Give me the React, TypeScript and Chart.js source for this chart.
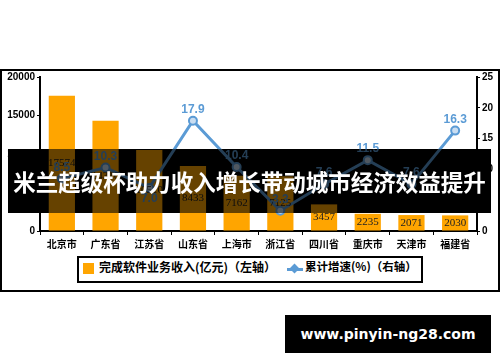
import React, { useEffect, useRef } from "react";
import { Chart, registerables } from "chart.js";

Chart.register(...registerables);

// Provinces / cities on the category axis
const cities = ["北京市", "广东省", "江苏省", "山东省", "上海市", "浙江省", "四川省", "重庆市", "天津市", "福建省"];
// Software business revenue, 100 million yuan (left axis)
const revenue = [17574, 14316, 10510, 8433, 7162, 7125, 3457, 2235, 2071, 2030];
// Cumulative growth, % (right axis)
const growth = [8.5, 10.3, 7.0, 17.9, 10.4, 3.3, 7.6, 11.5, 7.6, 16.3];
const revenueTicks = [0, 5000, 10000, 15000, 20000];
const growthTicks = [0, 5, 10, 15, 20, 25];
// growth labels that sit under their point instead of above it
const growthLabelsBelow = [2];

const revenueLabel = "完成软件业务收入(亿元)（左轴）";
const growthLabel = "累计增速(%)（右轴）";
const headline = "米兰超级杯助力收入增长带动城市经济效益提升";
const site = "www.pinyin-ng28.com";

const ORANGE = "#FFA500";
const BLUE = "#5B9BD5";
const CJK = '"Noto Sans CJK SC", "Noto Sans", sans-serif';

const valueLabels = {
  id: "valueLabels",
  afterDatasetsDraw(chart: any) {
    const ctx = chart.ctx;
    ctx.save();
    ctx.textAlign = "center";
    ctx.textBaseline = "middle";

    ctx.font = '11px "Liberation Serif", serif';
    ctx.fillStyle = "#222";
    chart.getDatasetMeta(1).data.forEach((el: any, i: number) => {
      const { x, y, base } = el.getProps(["x", "y", "base"], true);
      ctx.fillText(String(revenue[i]), x, (y + base) / 2);
    });

    ctx.font = 'bold 12px "Liberation Sans", Arial, sans-serif';
    ctx.fillStyle = BLUE;
    chart.getDatasetMeta(0).data.forEach((el: any, i: number) => {
      const dy = growthLabelsBelow.includes(i) ? 11 : -11;
      ctx.fillText(growth[i].toFixed(1), el.x, el.y + dy);
    });
    ctx.restore();
  },
};

const tickFont = { family: '"Liberation Sans", Arial, sans-serif', size: 10, weight: "bold" as const };
const plainNumber = (v: number | string) => String(v);

export default function App() {
  const canvasRef = useRef<HTMLCanvasElement>(null);

  useEffect(() => {
    const chart = new Chart(canvasRef.current!, {
      data: {
        labels: cities,
        datasets: [
          {
            type: "line",
            label: growthLabel,
            data: growth,
            yAxisID: "y1",
            borderColor: BLUE,
            borderWidth: 3,
            tension: 0,
            pointRadius: 4,
            pointBackgroundColor: "#C9DDF1",
            pointBorderColor: BLUE,
            pointBorderWidth: 2,
            order: 0,
          },
          {
            type: "bar",
            label: revenueLabel,
            data: revenue,
            yAxisID: "y",
            backgroundColor: ORANGE,
            categoryPercentage: 1,
            barPercentage: 0.6,
            order: 1,
          },
        ],
      } as any,
      options: {
        animation: false,
        responsive: false,
        devicePixelRatio: 1,
        layout: { padding: { left: 2, right: 2, top: 77, bottom: 39 } },
        plugins: { legend: { display: false }, tooltip: { enabled: false } },
        scales: {
          x: {
            offset: true,
            grid: { offset: true, drawOnChartArea: false, tickLength: 4, color: "#000", lineWidth: 1 },
            border: { color: "#000", width: 2 },
            ticks: {
              color: "#000",
              font: { family: CJK, size: 10, weight: "bold" },
              padding: 3,
              maxRotation: 0,
              autoSkip: false,
            },
            afterFit: (s: any) => {
              s.height = 30;
            },
          },
          y: {
            position: "left",
            min: 0,
            max: 20000,
            grid: { drawOnChartArea: false, tickLength: 3, color: "#000" },
            border: { color: "#000", width: 2 },
            ticks: { color: "#000", font: tickFont, padding: 2, callback: plainNumber },
            afterBuildTicks: (s: any) => {
              s.ticks = revenueTicks.map((v) => ({ value: v }));
            },
            afterFit: (s: any) => {
              s.width = 38;
            },
          },
          y1: {
            position: "right",
            min: 0,
            max: 25,
            grid: { drawOnChartArea: false, tickLength: 3, color: "#000" },
            border: { color: "#000", width: 2 },
            ticks: { color: "#000", font: tickFont, padding: 2, callback: plainNumber },
            afterBuildTicks: (s: any) => {
              s.ticks = growthTicks.map((v) => ({ value: v }));
            },
            afterFit: (s: any) => {
              s.width = 21;
            },
          },
        },
      } as any,
      plugins: [valueLabels],
    });
    return () => chart.destroy();
  }, []);

  const abs = (left: number, top: number, width: number, height: number, z: number): React.CSSProperties => ({
    position: "absolute",
    left,
    top,
    width,
    height,
    zIndex: z,
    boxSizing: "border-box",
  });

  return (
    <div style={{ position: "fixed", left: 0, top: 0, width: 500, height: 362, background: "#fff", overflow: "hidden" }}>
      {/* chart frame */}
      <div style={{ ...abs(0, 69, 500, 223, 0), border: "2px solid #000", background: "#fff" }} />
      {/* solid backing of the headline band */}
      <div style={{ ...abs(8, 149, 483, 64, 1), background: "#000" }} />
      <canvas ref={canvasRef} width={500} height={300} style={{ position: "absolute", left: 0, top: 0, zIndex: 2 }} />
      {/* legend */}
      <div style={{ ...abs(77, 256, 346, 27, 2), border: "2px solid #000", background: "#fff" }}>
        <div style={{ position: "absolute", left: 4, top: 5, width: 11, height: 11, background: ORANGE }} />
        <div
          style={{
            position: "absolute",
            left: 20,
            top: 0,
            height: 23,
            lineHeight: "23px",
            font: `bold 12px ${CJK}`,
            color: "#000",
            whiteSpace: "nowrap",
          }}
        >
          {revenueLabel}
        </div>
        <div style={{ position: "absolute", left: 208, top: 10, width: 16, height: 3, background: BLUE }} />
        <div
          style={{
            position: "absolute",
            left: 212,
            top: 7,
            width: 7,
            height: 7,
            background: BLUE,
            transform: "rotate(45deg)",
          }}
        />
        <div
          style={{
            position: "absolute",
            left: 226,
            top: 0,
            height: 23,
            lineHeight: "23px",
            font: `bold 11.5px ${CJK}`,
            color: "#000",
            whiteSpace: "nowrap",
          }}
        >
          {growthLabel}
        </div>
      </div>
      {/* headline band */}
      <div
        style={{
          ...abs(8, 149, 483, 64, 3),
          background: "rgba(0,0,0,0.6)",
          color: "#fff",
          font: `bold 22.5px ${CJK}`,
          lineHeight: "64px",
          textAlign: "center",
          whiteSpace: "nowrap",
        }}
      >
        {headline}
      </div>
      {/* site badge */}
      <div
        style={{
          ...abs(285, 315, 206, 38, 3),
          background: "#000",
          color: "#fff",
          font: 'bold 14px "DejaVu Sans", Verdana, sans-serif',
          lineHeight: "38px",
          textAlign: "center",
          whiteSpace: "nowrap",
        }}
      >
        {site}
      </div>
    </div>
  );
}
